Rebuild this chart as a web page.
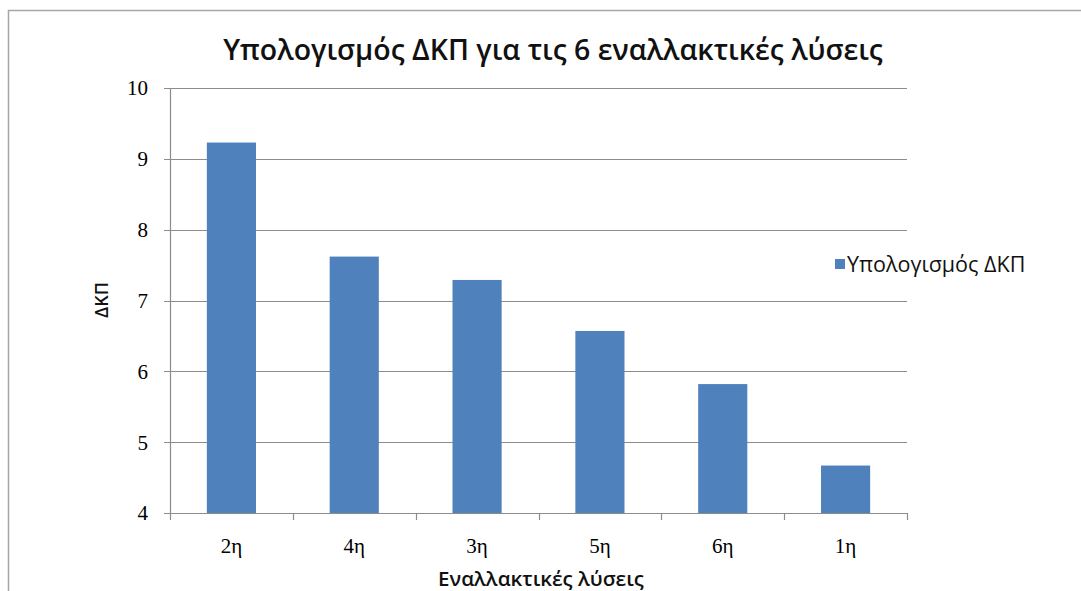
<!DOCTYPE html>
<html>
<head>
<meta charset="utf-8">
<script src="https://cdn.jsdelivr.net/npm/d3@7"></script>
<style>
  body { margin: 0; background: #fff; }
  svg { display: block; }
</style>
</head>
<body>
<div id="chart"></div>
<script>
// values
const categories = ["2η", "4η", "3η", "5η", "6η", "1η"];
const dkpValues = [9.23, 7.62, 7.29, 6.57, 5.82, 4.67];
const yTicks = [4, 5, 6, 7, 8, 9, 10];
const seriesName = "Υπολογισμός ΔΚΠ";
const titleText = "Υπολογισμός ΔΚΠ για τις 6 εναλλακτικές λύσεις";

const width = 1081;
const height = 591;
const marginTop = 88;
const marginRight = 174;
const marginBottom = 78;
const marginLeft = 170;

const svg = d3
  .select("#chart")
  .append("svg")
  .attr("width", width)
  .attr("height", height)
  .attr("viewBox", [0, 0, width, height]);

// outer chart frame (top and left visible only)
svg.append("path")
  .attr("d", `M8.5,${height} V10.5 H${width}`)
  .attr("fill", "none")
  .attr("stroke", "#a6a6a6")
  .attr("stroke-width", 1.5);

const x = d3
  .scaleBand()
  .domain(categories)
  .range([marginLeft, width - marginRight])
  .paddingInner(0.6)
  .paddingOuter(0.3);

const y = d3
  .scaleLinear()
  .domain([4, 10])
  .range([height - marginBottom, marginTop]);

// gridlines
svg.append("g")
  .selectAll("line")
  .data(yTicks)
  .join("line")
  .attr("x1", marginLeft - 6)
  .attr("x2", width - marginRight)
  .attr("y1", (d) => Math.round(y(d)) + 0.5)
  .attr("y2", (d) => Math.round(y(d)) + 0.5)
  .attr("stroke", "#8c8c8c")
  .attr("stroke-width", 1.2);

// bars
svg.append("g")
  .selectAll("rect")
  .data(dkpValues)
  .join("rect")
  .attr("x", (d, i) => x(categories[i]))
  .attr("width", x.bandwidth())
  .attr("y", (d) => y(d))
  .attr("height", (d) => y(4) - y(d))
  .attr("fill", "#4f81bd");

// y axis line
svg.append("line")
  .attr("x1", marginLeft + 0.5)
  .attr("x2", marginLeft + 0.5)
  .attr("y1", y(10))
  .attr("y2", y(4))
  .attr("stroke", "#8c8c8c")
  .attr("stroke-width", 1.2);

// x axis with category boundary ticks
const step = (width - marginRight - marginLeft) / categories.length;
svg.append("line")
  .attr("x1", marginLeft)
  .attr("x2", width - marginRight)
  .attr("y1", Math.round(y(4)) + 0.5)
  .attr("y2", Math.round(y(4)) + 0.5)
  .attr("stroke", "#8c8c8c")
  .attr("stroke-width", 1.2);
svg.append("g")
  .selectAll("line")
  .data(d3.range(categories.length + 1))
  .join("line")
  .attr("x1", (i) => Math.round(marginLeft + i * step) + 0.5)
  .attr("x2", (i) => Math.round(marginLeft + i * step) + 0.5)
  .attr("y1", y(4))
  .attr("y2", y(4) + 7)
  .attr("stroke", "#8c8c8c")
  .attr("stroke-width", 1.2);

// y tick labels
svg.append("g")
  .selectAll("text")
  .data(yTicks)
  .join("text")
  .attr("x", marginLeft - 22)
  .attr("y", (d) => y(d))
  .attr("dy", "0.35em")
  .attr("text-anchor", "end")
  .attr("font-family", "Liberation Serif, serif")
  .attr("font-size", 21)
  .attr("fill", "#000")
  .text((d) => d);

// x tick labels
svg.append("g")
  .selectAll("text")
  .data(categories)
  .join("text")
  .attr("x", (d) => x(d) + x.bandwidth() / 2)
  .attr("y", y(4) + 40)
  .attr("text-anchor", "middle")
  .attr("font-family", "Liberation Serif, serif")
  .attr("font-size", 21)
  .attr("fill", "#000")
  .text((d) => d);

// title
svg.append("text")
  .attr("x", 553)
  .attr("y", 60)
  .attr("text-anchor", "middle")
  .attr("font-family", "Open Sans, sans-serif")
  .attr("font-weight", 600)
  .attr("font-size", 28.5)
  .attr("fill", "#111")
  .text(titleText);

// axis titles
svg.append("text")
  .attr("x", 541)
  .attr("y", 586)
  .attr("text-anchor", "middle")
  .attr("font-family", "Open Sans, sans-serif")
  .attr("font-weight", 600)
  .attr("font-size", 20.5)
  .attr("fill", "#111")
  .text("Εναλλακτικές λύσεις");

svg.append("text")
  .attr("transform", "translate(108,300) rotate(-90)")
  .attr("text-anchor", "middle")
  .attr("font-family", "Open Sans, sans-serif")
  .attr("font-weight", 600)
  .attr("font-size", 18)
  .attr("fill", "#111")
  .text("ΔΚΠ");

// legend
const legend = svg.append("g").attr("transform", "translate(835,264)");
legend.append("rect")
  .attr("x", 0)
  .attr("y", -5)
  .attr("width", 10)
  .attr("height", 10)
  .attr("fill", "#4f81bd");
legend.append("text")
  .attr("x", 12)
  .attr("y", 0)
  .attr("dy", "0.35em")
  .attr("font-family", "Open Sans, sans-serif")
  .attr("font-size", 21.5)
  .attr("fill", "#111")
  .text(seriesName);
</script>
</body>
</html>
